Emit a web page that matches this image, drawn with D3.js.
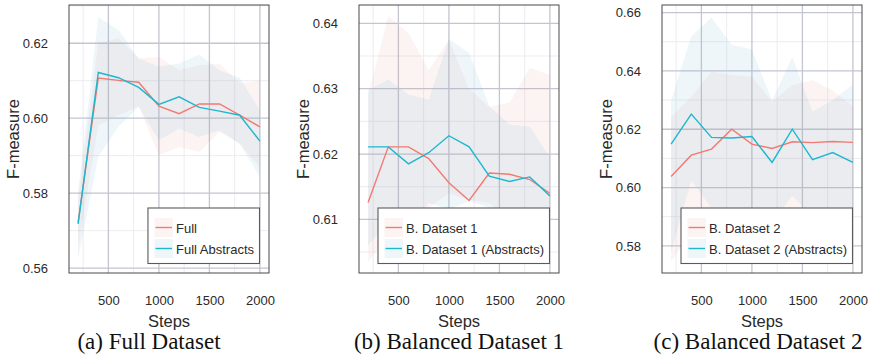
<!DOCTYPE html>
<html><head><meta charset="utf-8">
<script src="https://cdn.jsdelivr.net/npm/d3@7"></script>
<style>
html,body{margin:0;padding:0;background:#fff;}
svg{display:block;}
</style></head>
<body><svg id="chart" width="873" height="357"></svg>
<script>
// ---------- data ----------
const steps = [200, 400, 600, 800, 1000, 1200, 1400, 1600, 1800, 2000];
const xTicks = [500, 1000, 1500, 2000];
const xMinorTicks = [250, 750, 1250, 1750];

// (a) Full Dataset
const fullMean = [0.5722, 0.6107, 0.6101, 0.6096, 0.6032, 0.6012, 0.6038, 0.6038, 0.6008, 0.5977];
const fullLow  = [0.5655, 0.5981, 0.6008, 0.6032, 0.5901, 0.5923, 0.5910, 0.5963, 0.5932, 0.5870];
const fullHigh = [0.5785, 0.6200, 0.6213, 0.6159, 0.6163, 0.6128, 0.6141, 0.6146, 0.6093, 0.6101];
const fullAbsMean = [0.5718, 0.6122, 0.6108, 0.6082, 0.6037, 0.6057, 0.6029, 0.6019, 0.6008, 0.5939];
const fullAbsLow  = [0.5625, 0.5897, 0.5977, 0.6030, 0.5941, 0.5972, 0.5950, 0.5968, 0.5932, 0.5843];
const fullAbsHigh = [0.5805, 0.6269, 0.6235, 0.6159, 0.6137, 0.6146, 0.6170, 0.6128, 0.6108, 0.6021];
const yTicksA = [0.56, 0.58, 0.60, 0.62];

// (b) Balanced Dataset 1
const bd1Mean = [0.6126, 0.6211, 0.6211, 0.6193, 0.6156, 0.6129, 0.6171, 0.6169, 0.6161, 0.6140];
const bd1Low  = [0.6035, 0.6075, 0.6085, 0.6118, 0.6140, 0.6130, 0.6125, 0.6100, 0.6095, 0.6085];
const bd1High = [0.6290, 0.6411, 0.6385, 0.6328, 0.6375, 0.6300, 0.6272, 0.6279, 0.6332, 0.6321];
const bd1AbsMean = [0.6211, 0.6211, 0.6185, 0.6202, 0.6228, 0.6211, 0.6166, 0.6158, 0.6165, 0.6136];
const bd1AbsLow  = [0.6060, 0.6095, 0.6085, 0.6125, 0.6115, 0.6128, 0.6118, 0.6095, 0.6095, 0.6080];
const bd1AbsHigh = [0.6298, 0.6314, 0.6291, 0.6283, 0.6376, 0.6355, 0.6273, 0.6245, 0.6242, 0.6195];
const yTicksB = [0.61, 0.62, 0.63, 0.64];

// (c) Balanced Dataset 2
const bd2Mean = [0.6038, 0.6111, 0.6132, 0.6200, 0.6149, 0.6134, 0.6157, 0.6154, 0.6158, 0.6155];
const bd2Low  = [0.5745, 0.5850, 0.5860, 0.5880, 0.5900, 0.5880, 0.5920, 0.5900, 0.5890, 0.5870];
const bd2High = [0.6241, 0.6311, 0.6398, 0.6386, 0.6380, 0.6295, 0.6351, 0.6369, 0.6333, 0.6279];
const bd2AbsMean = [0.6149, 0.6252, 0.6172, 0.6170, 0.6175, 0.6086, 0.6200, 0.6096, 0.6120, 0.6086];
const bd2AbsLow  = [0.5780, 0.6024, 0.5930, 0.5900, 0.5900, 0.5880, 0.5972, 0.5900, 0.5900, 0.5850];
const bd2AbsHigh = [0.6299, 0.6519, 0.6583, 0.6490, 0.6473, 0.6299, 0.6448, 0.6260, 0.6300, 0.6354];
const yTicksC = [0.58, 0.60, 0.62, 0.64, 0.66];

const legendA = ["Full", "Full Abstracts"];
const legendB = ["B. Dataset 1", "B. Dataset 1 (Abstracts)"];
const legendC = ["B. Dataset 2", "B. Dataset 2 (Abstracts)"];
const captions = ["(a) Full Dataset", "(b) Balanced Dataset 1", "(c) Balanced Dataset 2"];
const xLabel = "Steps";
const yLabel = "F-measure";

// ---------- styling ----------
const RED = "#f27a72", BLUE = "#1db7cf";
const RED_FILL = "rgb(226,150,140)", BLUE_FILL = "rgb(125,185,215)";
const RED_OP = 0.10, BLUE_OP = 0.13;

const svg = d3.select("#chart");

function drawPanel(cfg) {
  const {left, width, top, height} = cfg;
  const x = d3.scaleLinear().domain([110, 2090]).range([left, left + width]);
  const y = d3.scaleLinear().domain(cfg.yDomain).range([top + height, top]);
  const g = svg.append("g");

  // minor grid
  const yMajorStep = cfg.yTicks[1] - cfg.yTicks[0];
  const yMinor = [];
  for (let v = cfg.yTicks[0] - yMajorStep / 2; v <= cfg.yDomain[1]; v += yMajorStep) {
    if (v >= cfg.yDomain[0]) yMinor.push(v);
  }
  g.append("g").selectAll("line").data(xMinorTicks).join("line")
    .attr("x1", d => x(d)).attr("x2", d => x(d)).attr("y1", top).attr("y2", top + height)
    .attr("stroke", "#ececf1").attr("stroke-width", 1);
  g.append("g").selectAll("line").data(yMinor).join("line")
    .attr("y1", d => y(d)).attr("y2", d => y(d)).attr("x1", left).attr("x2", left + width)
    .attr("stroke", "#ececf1").attr("stroke-width", 1);
  // major grid
  g.append("g").selectAll("line").data(xTicks).join("line")
    .attr("x1", d => x(d)).attr("x2", d => x(d)).attr("y1", top).attr("y2", top + height)
    .attr("stroke", "#c3c5d0").attr("stroke-width", 1.3);
  g.append("g").selectAll("line").data(cfg.yTicks).join("line")
    .attr("y1", d => y(d)).attr("y2", d => y(d)).attr("x1", left).attr("x2", left + width)
    .attr("stroke", "#c3c5d0").attr("stroke-width", 1.3);

  const clipId = "clip" + cfg.id;
  svg.append("clipPath").attr("id", clipId).append("rect")
    .attr("x", left).attr("y", top).attr("width", width).attr("height", height);
  const plot = g.append("g").attr("clip-path", `url(#${clipId})`);

  const area = (lo, hi) => d3.area().x((d, i) => x(steps[i])).y0((d, i) => y(lo[i])).y1((d, i) => y(hi[i]))(steps);
  const line = (m) => d3.line().x((d, i) => x(steps[i])).y((d, i) => y(m[i]))(steps);

  plot.append("path").attr("d", area(cfg.s1.lo, cfg.s1.hi)).attr("fill", RED_FILL).attr("fill-opacity", RED_OP);
  plot.append("path").attr("d", area(cfg.s2.lo, cfg.s2.hi)).attr("fill", BLUE_FILL).attr("fill-opacity", BLUE_OP);
  plot.append("path").attr("d", line(cfg.s1.mean)).attr("fill", "none").attr("stroke", RED).attr("stroke-width", 1.4);
  plot.append("path").attr("d", line(cfg.s2.mean)).attr("fill", "none").attr("stroke", BLUE).attr("stroke-width", 1.4);

  // frame
  g.append("rect").attr("x", left).attr("y", top).attr("width", width).attr("height", height)
    .attr("fill", "none").attr("stroke", "#4a4a4a").attr("stroke-width", 1);

  // axes (labels only, no tick marks)
  const xAxis = d3.axisBottom(x).tickValues(xTicks).tickSize(0).tickPadding(0).tickFormat(d3.format("d"));
  const xa = g.append("g").attr("transform", `translate(0,${top + height + 23})`).call(xAxis);
  xa.select(".domain").remove();
  xa.selectAll("text").attr("dy", "0.71em").attr("font-family", "Liberation Sans, Arial, sans-serif")
    .attr("font-size", 13).attr("fill", "#2a2a2a");

  const yAxis = d3.axisLeft(y).tickValues(cfg.yTicks).tickSize(0).tickPadding(0).tickFormat(d3.format(".2f"));
  const ya = g.append("g").attr("transform", `translate(${left - 21},0)`).call(yAxis);
  ya.select(".domain").remove();
  ya.selectAll("text").attr("font-family", "Liberation Sans, Arial, sans-serif")
    .attr("font-size", 13).attr("fill", "#2a2a2a");

  g.append("text").attr("x", left + width / 2).attr("y", 327).attr("text-anchor", "middle")
    .attr("font-family", "Liberation Sans, Arial, sans-serif").attr("font-size", 16.5).attr("fill", "#2a2a2a")
    .text(xLabel);
  g.append("text").attr("transform", `translate(${left - 50},${top + height / 2}) rotate(-90)`)
    .attr("text-anchor", "middle")
    .attr("font-family", "Liberation Sans, Arial, sans-serif").attr("font-size", 16.5).attr("fill", "#2a2a2a")
    .text(yLabel);
  g.append("text").attr("x", cfg.capX).attr("y", 349).attr("text-anchor", "middle")
    .attr("font-family", "Liberation Serif, Times New Roman, serif").attr("font-size", 23).attr("fill", "#111")
    .text(cfg.caption);

  // legend
  const lg = g.append("g");
  const tmp = lg.append("text").attr("font-family", "Liberation Sans, Arial, sans-serif").attr("font-size", 13)
    .text(cfg.legend[1]);
  const tw = tmp.node().getComputedTextLength();
  tmp.remove();
  const bw = 28 + tw + 5.5, bh = 55.5;
  const bx = left + width - 9.5 - bw, by = top + height - 9.5 - bh;
  lg.append("rect").attr("x", bx).attr("y", by).attr("width", bw).attr("height", bh)
    .attr("fill", "#fff").attr("stroke", "#5a5a5a").attr("stroke-width", 1.1);
  const entries = [
    {label: cfg.legend[0], color: RED, fill: RED_FILL, op: RED_OP},
    {label: cfg.legend[1], color: BLUE, fill: BLUE_FILL, op: BLUE_OP}
  ];
  entries.forEach((e, i) => {
    const ey = by + 10 + i * 21;
    lg.append("rect").attr("x", bx + 6.5).attr("y", ey).attr("width", 18.5).attr("height", 19)
      .attr("fill", e.fill).attr("fill-opacity", e.op);
    lg.append("line").attr("x1", bx + 7.5).attr("x2", bx + 24).attr("y1", ey + 9.5).attr("y2", ey + 9.5)
      .attr("stroke", e.color).attr("stroke-width", 1.4);
    lg.append("text").attr("x", bx + 28).attr("y", ey + 15)
      .attr("font-family", "Liberation Sans, Arial, sans-serif").attr("font-size", 13).attr("fill", "#2a2a2a")
      .text(e.label);
  });
}

drawPanel({id: "a", left: 69, width: 200, top: 5, height: 268, yDomain: [0.5587, 0.6302], yTicks: yTicksA,
  s1: {mean: fullMean, lo: fullLow, hi: fullHigh}, s2: {mean: fullAbsMean, lo: fullAbsLow, hi: fullAbsHigh},
  legend: legendA, caption: captions[0], capX: 149});
drawPanel({id: "b", left: 359, width: 200, top: 5, height: 268, yDomain: [0.6018, 0.6428], yTicks: yTicksB,
  s1: {mean: bd1Mean, lo: bd1Low, hi: bd1High}, s2: {mean: bd1AbsMean, lo: bd1AbsLow, hi: bd1AbsHigh},
  legend: legendB, caption: captions[1], capX: 459});
drawPanel({id: "c", left: 662, width: 200, top: 5, height: 268, yDomain: [0.5707, 0.6626], yTicks: yTicksC,
  s1: {mean: bd2Mean, lo: bd2Low, hi: bd2High}, s2: {mean: bd2AbsMean, lo: bd2AbsLow, hi: bd2AbsHigh},
  legend: legendC, caption: captions[2], capX: 758});
</script>
</body></html>
